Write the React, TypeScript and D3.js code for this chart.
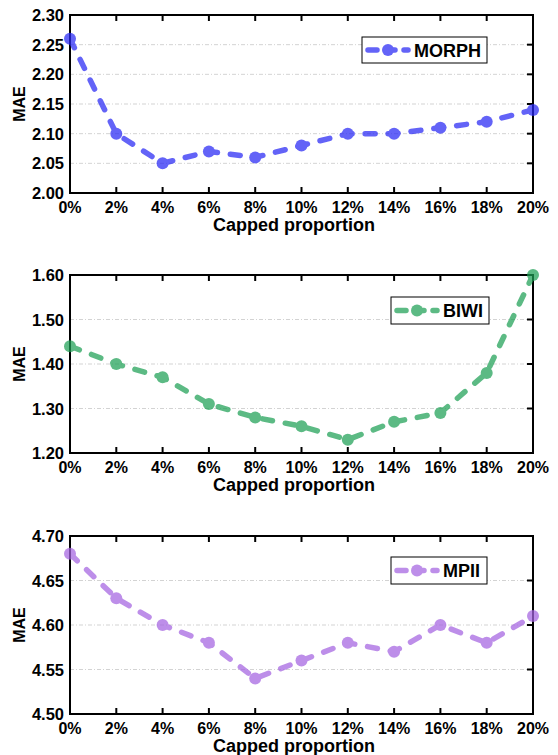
import { useRef, useEffect } from 'react'
import * as d3 from 'd3'

const proportions = [0, 2, 4, 6, 8, 10, 12, 14, 16, 18, 20]
const morph = [2.26, 2.10, 2.05, 2.07, 2.06, 2.08, 2.10, 2.10, 2.11, 2.12, 2.14]
const biwi = [1.44, 1.40, 1.37, 1.31, 1.28, 1.26, 1.23, 1.27, 1.29, 1.38, 1.60]
const mpii = [4.68, 4.63, 4.60, 4.58, 4.54, 4.56, 4.58, 4.57, 4.60, 4.58, 4.61]

const morphTicks = [2.00, 2.05, 2.10, 2.15, 2.20, 2.25, 2.30]
const biwiTicks = [1.20, 1.30, 1.40, 1.50, 1.60]
const mpiiTicks = [4.50, 4.55, 4.60, 4.65, 4.70]

const FONT = '"Liberation Sans", Arial, sans-serif'

const panels = [
  { name: 'MORPH', values: morph, ticks: morphTicks, color: 'rgb(40,40,245)', top: 15, legend: [362, 37, 125, 26] },
  { name: 'BIWI', values: biwi, ticks: biwiTicks, color: 'rgb(30,160,85)', top: 275, legend: [391, 297, 98, 27] },
  { name: 'MPII', values: mpii, ticks: mpiiTicks, color: 'rgb(165,100,225)', top: 536, legend: [391, 557, 96, 27] },
]

const left = 70
const right = 533
const plotH = 178

const App = () => {
  const ref = useRef(null)

  useEffect(() => {
    const svg = d3.select(ref.current)
    svg.selectAll('*').remove()

    const x = d3.scaleLinear().domain([0, 20]).range([left, right])

    panels.forEach(p => {
      const y = d3.scaleLinear()
        .domain([p.ticks[0], p.ticks[p.ticks.length - 1]])
        .range([p.top + plotH, p.top])
      const g = svg.append('g')

      // grid
      g.selectAll('.grid')
        .data(p.ticks.slice(1, -1))
        .enter().append('line')
        .attr('x1', left).attr('x2', right)
        .attr('y1', d => y(d)).attr('y2', d => y(d))
        .attr('stroke', '#c8c8c8').attr('stroke-width', 0.8)
        .attr('stroke-dasharray', '4,2,1,2')

      // ticks inward: top, bottom, right
      g.selectAll('.tb')
        .data(proportions.slice(1, -1))
        .enter().append('g')
        .each(function (d) {
          const t = d3.select(this)
          t.append('line').attr('x1', x(d)).attr('x2', x(d))
            .attr('y1', p.top).attr('y2', p.top + 6)
            .attr('stroke', '#000').attr('stroke-width', 2)
          t.append('line').attr('x1', x(d)).attr('x2', x(d))
            .attr('y1', p.top + plotH).attr('y2', p.top + plotH - 6)
            .attr('stroke', '#000').attr('stroke-width', 2)
        })
      g.selectAll('.rt')
        .data(p.ticks.slice(1, -1))
        .enter().append('line')
        .attr('x1', right).attr('x2', right - 6)
        .attr('y1', d => y(d)).attr('y2', d => y(d))
        .attr('stroke', '#000').attr('stroke-width', 2)

      g.append('rect')
        .attr('x', left).attr('y', p.top)
        .attr('width', right - left).attr('height', plotH)
        .attr('fill', 'none').attr('stroke', '#000').attr('stroke-width', 2)

      // tick labels
      g.selectAll('.xl')
        .data(proportions)
        .enter().append('text')
        .attr('x', d => x(d)).attr('y', p.top + plotH + 20)
        .attr('text-anchor', 'middle')
        .style('font', `bold 16px ${FONT}`)
        .text(d => d + '%')
      g.selectAll('.yl')
        .data(p.ticks)
        .enter().append('text')
        .attr('x', left - 6).attr('y', d => y(d) + 6)
        .attr('text-anchor', 'end')
        .style('font', `bold 16.5px ${FONT}`)
        .text(d => d.toFixed(2))

      g.append('text')
        .attr('x', 294).attr('y', p.top + plotH + 38)
        .attr('text-anchor', 'middle')
        .style('font', `bold 18px ${FONT}`)
        .text('Capped proportion')
      g.append('text')
        .attr('transform', `translate(25,${p.top + plotH / 2}) rotate(-90)`)
        .attr('text-anchor', 'middle')
        .style('font', `bold 16px ${FONT}`)
        .text('MAE')

      // series
      const line = d3.line<number>()
        .x((d, i) => x(proportions[i]))
        .y(d => y(d))
      const s = g.append('g').attr('opacity', 0.72)
      s.append('path')
        .datum(p.values)
        .attr('d', line)
        .attr('fill', 'none')
        .attr('stroke', p.color)
        .attr('stroke-width', 5.5)
        .attr('stroke-linecap', 'round')
        .attr('stroke-dasharray', '10,13')
      s.selectAll('circle')
        .data(p.values)
        .enter().append('circle')
        .attr('cx', (d, i) => x(proportions[i]))
        .attr('cy', d => y(d))
        .attr('r', 6)
        .attr('fill', p.color)

      // legend
      const [lx, ly, lw, lh] = p.legend
      const lg = g.append('g')
      lg.append('rect')
        .attr('x', lx).attr('y', ly).attr('width', lw).attr('height', lh)
        .attr('fill', '#fff').attr('stroke', '#000').attr('stroke-width', 1)
      const cy = ly + lh / 2
      const ls = lg.append('g').attr('opacity', 0.72)
      ls.append('line')
        .attr('x1', lx + 6).attr('x2', lx + 46)
        .attr('y1', cy).attr('y2', cy)
        .attr('stroke', p.color).attr('stroke-width', 5.5)
        .attr('stroke-linecap', 'round')
        .attr('stroke-dasharray', '9,9')
      ls.append('circle')
        .attr('cx', lx + 26).attr('cy', cy).attr('r', 6)
        .attr('fill', p.color)
      lg.append('text')
        .attr('x', lx + 52).attr('y', cy + 6.5)
        .style('font', `bold 18px ${FONT}`)
        .text(p.name)
    })
  })

  return (
    <svg
      ref={ref}
      width={558} height={755}
      style={{ position: 'absolute', left: 0, top: 0, background: '#fff' }}
    />
  )
}

export default App
